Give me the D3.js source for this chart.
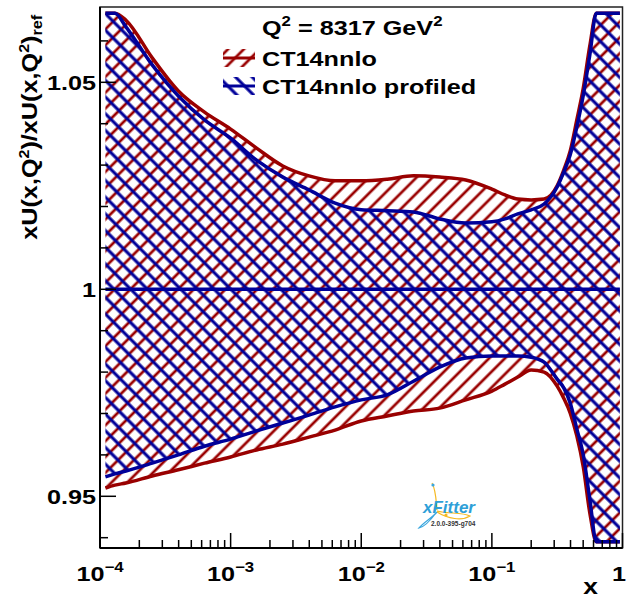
<!DOCTYPE html>
<html lang="en">
<head>
<meta charset="UTF-8">
<title>xU ratio CT14nnlo</title>
<script src="https://cdnjs.cloudflare.com/ajax/libs/d3/7.8.5/d3.min.js"></script>
<style>
  body { margin: 0; background: #fff; }
  svg { display: block; }
  text { font-family: "Liberation Sans", Arial, Helvetica, sans-serif; font-weight: bold; fill: #000; }
</style>
</head>
<body>
<svg id="chart" width="628" height="600"></svg>
<script>
// x grid (same for all bands)
const xs = [1.1e-4, 1.3e-4, 1.58e-4, 2.51e-4, 3.98e-4, 6.31e-4, 1e-3, 1.58e-3, 2.51e-3, 3.98e-3,
  6.31e-3, 0.01, 0.0158, 0.0251, 0.0398, 0.0631, 0.1, 0.126, 0.158, 0.2,
  0.251, 0.316, 0.355, 0.398, 0.447, 0.501, 0.562, 0.631, 0.794, 0.955];

const ct14Up = [1.0667, 1.0667, 1.0650, 1.0559, 1.0479, 1.0428, 1.0387, 1.0341, 1.0298, 1.0274,
  1.0262, 1.0262, 1.0266, 1.0274, 1.0271, 1.0264, 1.0242, 1.0228, 1.0218, 1.0216,
  1.0218, 1.0250, 1.0288, 1.0334, 1.0409, 1.0486, 1.0588, 1.0667, 1.0667, 1.0667];
const ct14Lo = [0.9520, 0.9527, 0.9532, 0.9549, 0.9564, 0.9580, 0.9595, 0.9612, 0.9626, 0.9643,
  0.9660, 0.9682, 0.9694, 0.9706, 0.9713, 0.9733, 0.9754, 0.9771, 0.9788, 0.9805,
  0.9800, 0.9766, 0.9737, 0.9701, 0.9646, 0.9571, 0.9460, 0.9390, 0.9390, 0.9390];

const profUp = [1.0667, 1.0667, 1.0634, 1.0542, 1.0467, 1.0409, 1.0365, 1.0312, 1.0271, 1.0240,
  1.0208, 1.0192, 1.0190, 1.0187, 1.0170, 1.0160, 1.0163, 1.0170, 1.0182, 1.0192,
  1.0206, 1.0247, 1.0283, 1.0325, 1.0392, 1.0469, 1.0566, 1.0667, 1.0667, 1.0667];
const profLo = [0.9547, 0.9554, 0.9561, 0.9580, 0.9600, 0.9621, 0.9638, 0.9658, 0.9677, 0.9696,
  0.9716, 0.9733, 0.9745, 0.9778, 0.9812, 0.9834, 0.9839, 0.9839, 0.9839, 0.9836,
  0.9824, 0.9783, 0.9762, 0.9725, 0.9663, 0.9600, 0.9493, 0.9390, 0.9390, 0.9390];

const centralX = [1.1e-4, 0.955];
const centralVal = [1, 1];

const xMajor = [1e-4, 1e-3, 1e-2, 1e-1, 1];
const xMajorExp = ["−4", "−3", "−2", "−1", null];
const yMajor = [0.95, 1, 1.05];
const yMajorLabels = ["0.95", "1", "1.05"];
const yMinor = [0.94, 0.96, 0.97, 0.98, 0.99, 1.01, 1.02, 1.03, 1.04, 1.06];

const RED = "#990000", BLUE = "#000099";
const fL = 100, fR = 622.5, fT = 7, fB = 548;
const SX = 1.2; // horizontal text stretch of the original picture

const svg = d3.select("#chart");
const x = d3.scaleLog().domain([1e-4, 1]).range([fL, fR]);
const y = d3.scaleLinear().domain([0.93751, 1.06819]).range([fB, fT]);

const defs = svg.append("defs");
function hatch(id, color, angle, gap, w) {
  const p = defs.append("pattern").attr("id", id)
    .attr("patternUnits", "userSpaceOnUse")
    .attr("width", gap).attr("height", gap)
    .attr("patternTransform", `rotate(${angle})`);
  p.append("line").attr("x1", gap / 2).attr("x2", gap / 2).attr("y1", -1).attr("y2", gap + 1)
    .attr("stroke", color).attr("stroke-width", w);
}
hatch("hRed", RED, 45, 11.2, 2.7);
hatch("hBlue", BLUE, -45, 11.8, 3.1);

defs.append("clipPath").attr("id", "frameClip")
  .append("rect").attr("x", fL).attr("y", fT).attr("width", fR - fL).attr("height", fB - fT);

const plot = svg.append("g").attr("clip-path", "url(#frameClip)");

function band(up, lo, fillId, color) {
  const pts = xs.map((v, i) => ({ x: v, hi: up[i], lo: lo[i] }));
  plot.append("path").datum(pts)
    .attr("fill", `url(#${fillId})`)
    .attr("d", d3.area().x(d => x(d.x)).y0(d => y(d.lo)).y1(d => y(d.hi)).curve(d3.curveMonotoneX));
  const ln = key => d3.line().x(d => x(d.x)).y(d => y(d[key])).curve(d3.curveMonotoneX);
  ["hi", "lo"].forEach(k => plot.append("path").datum(pts)
    .attr("fill", "none").attr("stroke", color).attr("stroke-width", 3.5)
    .attr("stroke-linejoin", "round").attr("d", ln(k)));
}
band(ct14Up, ct14Lo, "hRed", RED);
band(profUp, profLo, "hBlue", BLUE);

// central ratio line
plot.append("path").datum(centralX.map((v, i) => [v, centralVal[i]]))
  .attr("fill", "none").attr("stroke", BLUE).attr("stroke-width", 3.5)
  .attr("d", d3.line().x(d => x(d[0])).y(d => y(d[1])));

// frame
svg.append("rect").attr("x", fL).attr("y", fT).attr("width", fR - fL).attr("height", fB - fT)
  .attr("fill", "none").attr("stroke", "#222").attr("stroke-width", 1.5);
svg.append("line").attr("x1", fL).attr("x2", fL).attr("y1", fT).attr("y2", fB)
  .attr("stroke", "#000").attr("stroke-width", 2);
svg.append("line").attr("x1", fL).attr("x2", fR).attr("y1", fB).attr("y2", fB)
  .attr("stroke", "#000").attr("stroke-width", 2);

// x ticks
const xMinor = [];
xMajor.slice(0, -1).forEach(d => { for (let k = 2; k <= 9; k++) xMinor.push(d * k); });
const tk = svg.append("g").attr("stroke", "#000").attr("stroke-width", 1.5);
xMajor.forEach(d => tk.append("line").attr("x1", x(d)).attr("x2", x(d)).attr("y1", fB).attr("y2", fB - 15));
xMinor.forEach(d => tk.append("line").attr("x1", x(d)).attr("x2", x(d)).attr("y1", fB).attr("y2", fB - 8));
yMajor.forEach(d => tk.append("line").attr("x1", fL).attr("x2", fL + 16).attr("y1", y(d)).attr("y2", y(d)));
yMinor.forEach(d => tk.append("line").attr("x1", fL).attr("x2", fL + 8).attr("y1", y(d)).attr("y2", y(d)));

// x tick labels
xMajor.forEach((d, i) => {
  const t = svg.append("text").attr("text-anchor", "middle").attr("font-size", 21)
    .attr("transform", `translate(${Math.min(x(d), 619)},581) scale(${SX},1)`);
  if (xMajorExp[i]) {
    t.append("tspan").text("10");
    t.append("tspan").attr("font-size", 14).attr("dy", -9).text(xMajorExp[i]);
  } else t.text("1");
});
svg.append("text").attr("text-anchor", "end").attr("font-size", 22)
  .attr("transform", `translate(598,594) scale(${SX},1)`).text("x");

// y tick labels
yMajor.forEach((d, i) => svg.append("text").attr("text-anchor", "end").attr("font-size", 21)
  .attr("transform", `translate(96,${y(d) + 7.5}) scale(${SX},1)`).text(yMajorLabels[i]));

// y title
const yt = svg.append("text").attr("text-anchor", "end").attr("font-size", 22);
yt.append("tspan").text("xU(x,Q");
yt.append("tspan").attr("font-size", 14).attr("dy", -8).text("2");
yt.append("tspan").attr("dy", 8).text(")/xU(x,Q");
yt.append("tspan").attr("font-size", 14).attr("dy", -8).text("2");
yt.append("tspan").attr("dy", 8).text(")");
yt.append("tspan").attr("font-size", 14).attr("dy", 5).text("ref");
const ytLen = yt.node().getComputedTextLength();
yt.attr("transform", `translate(37,15) rotate(-90) scale(${225 / ytLen},1)`);

// legend
const lg = svg.append("g");
const q = lg.append("text").attr("font-size", 21).attr("transform", `translate(262,35) scale(${SX},1)`);
q.append("tspan").text("Q");
q.append("tspan").attr("font-size", 14).attr("dy", -9).text("2");
q.append("tspan").attr("dy", 9).text(" = 8317 GeV");
q.append("tspan").attr("font-size", 14).attr("dy", -9).text("2");

[["CT14nnlo", "hRed", RED, 58], ["CT14nnlo profiled", "hBlue", BLUE, 86]].forEach(([name, pid, col, cy]) => {
  lg.append("rect").attr("x", 223).attr("y", cy - 9).attr("width", 32).attr("height", 18)
    .attr("fill", `url(#${pid})`);
  lg.append("line").attr("x1", 223).attr("x2", 255).attr("y1", cy).attr("y2", cy)
    .attr("stroke", col).attr("stroke-width", 3);
  lg.append("text").attr("font-size", 21).attr("transform", `translate(262,${cy + 7.5}) scale(${SX},1)`).text(name);
});

// xFitter logo
const logo = svg.append("g");
logo.append("path").attr("d", "M432,483 C436,490 436,500 437,510").attr("fill", "none").attr("stroke", "#f5b820").attr("stroke-width", 1.2);
logo.append("path").attr("d", "M437,511 C448,514 462,512 470,516 C462,521 448,519 437,512").attr("fill", "none").attr("stroke", "#f5b820").attr("stroke-width", 1.2);
logo.append("path").attr("d", "M437,512 C432,518 424,522 419,528 C424,527 430,521 436,513").attr("fill", "none").attr("stroke", "#3aa6de").attr("stroke-width", 1.2);
logo.append("circle").attr("cx", 433).attr("cy", 485).attr("r", 1.6).attr("fill", "#3aa6de");
logo.append("circle").attr("cx", 446).attr("cy", 515).attr("r", 1.6).attr("fill", "#f5b820");
logo.append("text").attr("x", 423).attr("y", 513).attr("font-size", 17).attr("font-weight", "normal")
  .attr("font-style", "italic").style("fill", "#2e9fd8").text("xFitter");
logo.append("text").attr("x", 431).attr("y", 526).attr("font-size", 6.5).attr("font-weight", "normal")
  .style("fill", "#333").text("2.0.0-395-g704");
</script>
</body>
</html>
